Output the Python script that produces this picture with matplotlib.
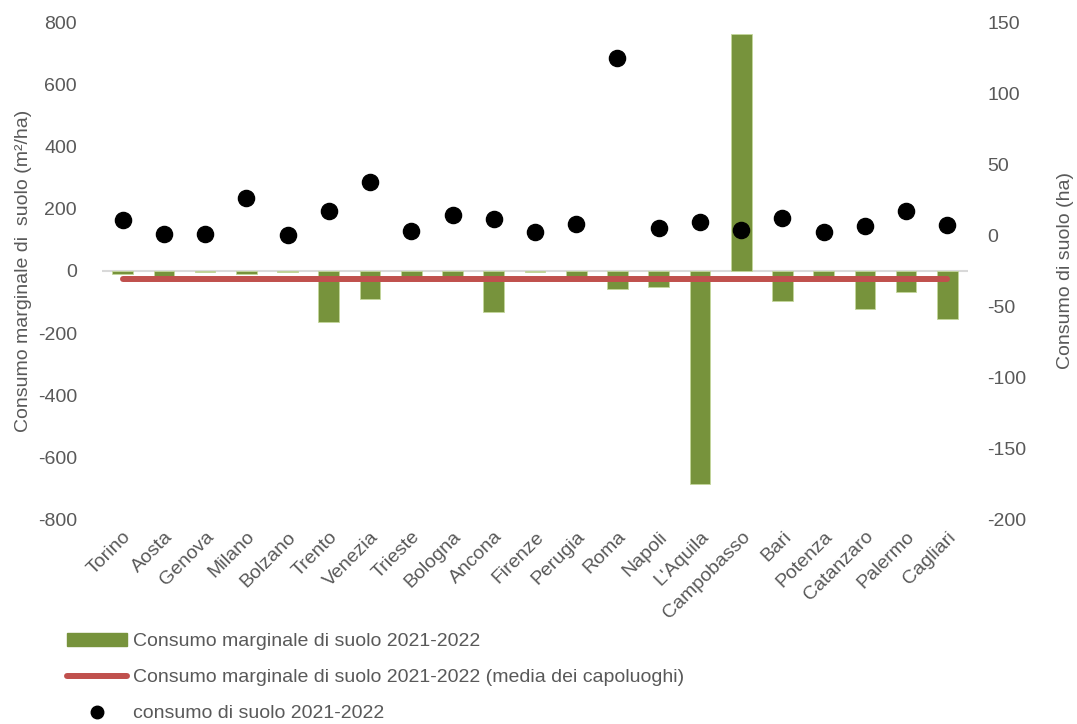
import numpy as np
import matplotlib
matplotlib.use('Agg')
import matplotlib.pyplot as plt
from matplotlib.patches import Patch
from matplotlib.lines import Line2D

plt.rcParams['font.family'] = ['Liberation Sans Narrow', 'Liberation Sans', 'DejaVu Sans']
plt.rcParams['axes.unicode_minus'] = False

# dati
citta = ["Torino", "Aosta", "Genova", "Milano", "Bolzano", "Trento", "Venezia",
         "Trieste", "Bologna", "Ancona", "Firenze", "Perugia", "Roma", "Napoli",
         "L'Aquila", "Campobasso", "Bari", "Potenza", "Catanzaro", "Palermo", "Cagliari"]
consumo_marginale = [-10, -30, -2, -10, -2, -163, -89, -33, -33, -132, -3, -30,
                     -58, -53, -684, 763, -96, -33, -121, -67, -153]
media_capoluoghi = -27
consumo_ha = [10.6, 0.7, 1.2, 26, 0, 17, 37.4, 3.3, 14.2, 11.3, 2.4, 8,
              124.6, 5, 9.5, 4, 12.5, 2.1, 6.9, 17, 7.1]

verde = '#77933C'
rosso = '#C0504D'
grigio = '#595959'
fs = 14

fig = plt.figure(figsize=(10.77, 7.24), dpi=100)
ax = fig.add_axes([0.0947, 0.2818, 0.8041, 0.6878])
ax2 = ax.twinx()

x = np.arange(len(citta))
ax.bar(x, consumo_marginale, width=0.5, color=verde, edgecolor='#C4D79B',
       linewidth=0.6, zorder=2)
ax.axhline(0, color='#D9D9D9', linewidth=1.5, zorder=1)
ax.plot(x, [media_capoluoghi] * len(x), color=rosso, linewidth=4.3,
        solid_capstyle='round', zorder=3)

ax2.scatter(x, consumo_ha, s=135, color='black', zorder=4)

ax.set_xlim(-0.5, len(citta) - 0.5)
ax.set_ylim(-800, 800)
ax.set_yticks(np.arange(-800, 801, 200))
ax2.set_ylim(-200, 150)
ax2.set_yticks(np.arange(-200, 151, 50))

ax.set_xticks(x)
ax.set_xticklabels(citta, rotation=45, ha='right', rotation_mode='anchor')

for a in (ax, ax2):
    for s in a.spines.values():
        s.set_visible(False)
    a.tick_params(length=0, labelsize=fs, colors=grigio)
ax.tick_params(axis='y', pad=18)
ax2.tick_params(axis='y', pad=14)
ax.tick_params(axis='x', pad=6)

ax.set_ylabel('Consumo marginale di  suolo (m²/ha)', fontsize=fs, color=grigio, labelpad=4)
ax2.set_ylabel('Consumo di suolo (ha)', fontsize=fs, color=grigio, labelpad=22)

ax.set_zorder(ax2.get_zorder() - 1)
ax.patch.set_visible(False)
ax2.patch.set_visible(False)

handles = [Patch(facecolor=verde, edgecolor=verde),
           Line2D([0], [0], color=rosso, linewidth=4.3, solid_capstyle='round'),
           Line2D([0], [0], marker='o', color='black', linestyle='None', markersize=9)]
labels = ['Consumo marginale di suolo 2021-2022',
          'Consumo marginale di suolo 2021-2022 (media dei capoluoghi)',
          'consumo di suolo 2021-2022']
fig.legend(handles, labels, loc='lower left', bbox_to_anchor=(0.046, -0.022),
           frameon=False, fontsize=fs, labelcolor=grigio, handlelength=3.1,
           handletextpad=0.3, labelspacing=0.95)

fig.savefig('out.png', dpi=100)
